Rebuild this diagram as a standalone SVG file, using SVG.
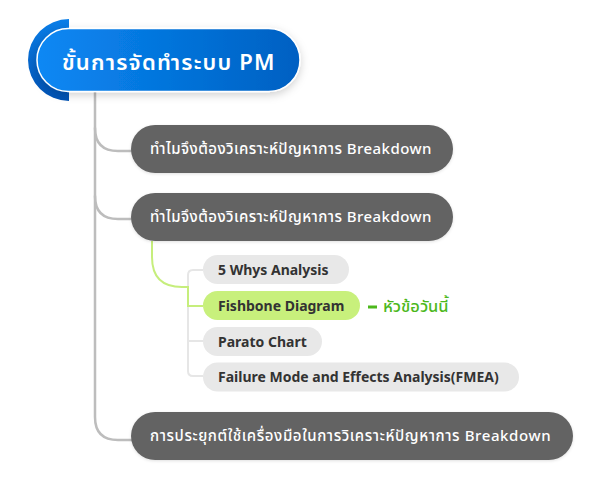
<svg xmlns="http://www.w3.org/2000/svg" width="600" height="480" viewBox="0 0 600 480">
<defs>
<linearGradient id="rootFill" x1="0" y1="0" x2="1" y2="0">
<stop offset="0" stop-color="#0a88f4"/>
<stop offset="1" stop-color="#0060c2"/>
</linearGradient>
<linearGradient id="arcFill" x1="0" y1="0" x2="0" y2="1">
<stop offset="0" stop-color="#0a7ee8"/>
<stop offset="1" stop-color="#0052b4"/>
</linearGradient>
<filter id="shadow" x="-20%" y="-40%" width="140%" height="180%">
<feDropShadow dx="0" dy="3" stdDeviation="4" flood-color="#000" flood-opacity="0.18"/>
</filter>
<filter id="soft" x="-10%" y="-30%" width="120%" height="160%">
<feDropShadow dx="0" dy="1" stdDeviation="1.5" flood-color="#000" flood-opacity="0.12"/>
</filter>
</defs>
<style>
.thai{font-family:"Noto Sans","Noto Sans Thai","DejaVu Sans",sans-serif;}
.dark{fill:#646464;}
.darkText{fill:#ffffff;font-size:15px;font-weight:500;letter-spacing:0.45px;}
.leaf{fill:#e8e8e8;}
.leafText{fill:#333333;font-size:14px;font-weight:700;}
.trunk{fill:none;stroke:#bdbdbd;stroke-width:2.5;stroke-linecap:round;}
.bracket{fill:none;stroke:#e6e6e6;stroke-width:2;}
.green{fill:none;stroke:#c6ee7c;stroke-width:2;}
</style>
<rect width="600" height="480" fill="#ffffff"/>

<g id="connectors">
<path class="trunk" d="M95,92 V417 Q95,440 118,440 H132"/>
<path class="trunk" d="M95,128 Q95,151 118,151 H132"/>
<path class="trunk" d="M95,196 Q95,219 118,219 H132"/>
<path class="bracket" d="M203,270 H193 Q188,270 188,275 V371 Q188,376 193,376 H203"/>
<path class="bracket" d="M188,341 H203"/>
<path class="green" d="M152,241 V257 Q152,287 182,287 H188 V306 H203"/>
</g>

<g id="root">
<path d="M69,19 A41,41 0 0 0 69,101 Z" fill="url(#arcFill)"/>
<rect x="37" y="28.5" width="263" height="63" rx="31.5" fill="url(#rootFill)" stroke="#ffffff" stroke-width="1.5" filter="url(#shadow)"/>
<text class="thai" x="62" y="70" fill="#ffffff" font-size="22" font-weight="600" letter-spacing="1.2">ขั้นการจัดทำระบบ PM</text>
</g>

<g id="node1">
<rect class="dark" x="131" y="125" width="322" height="48" rx="24" filter="url(#soft)"/>
<text class="thai darkText" x="150" y="154">ทำไมจึงต้องวิเคราะห์ปัญหาการ Breakdown</text>
</g>

<g id="node2">
<rect class="dark" x="131" y="193" width="322" height="48" rx="24" filter="url(#soft)"/>
<text class="thai darkText" x="150" y="222">ทำไมจึงต้องวิเคราะห์ปัญหาการ Breakdown</text>
</g>

<g id="leaf1">
<rect class="leaf" x="203" y="255" width="146" height="29" rx="14.5"/>
<text class="thai leafText" x="218" y="274.5">5 Whys Analysis</text>
</g>

<g id="leaf2">
<rect x="203" y="291" width="157" height="29" rx="14.5" fill="#c8f07c"/>
<text class="thai leafText" x="218" y="310.5">Fishbone Diagram</text>
</g>

<g id="note">
<rect x="368" y="305.5" width="9" height="3" fill="#4cb81c"/>
<text class="thai" x="383" y="312" fill="#4cb81c" font-size="16.5" font-weight="500">หัวข้อวันนี้</text>
</g>

<g id="leaf3">
<rect class="leaf" x="203" y="327" width="119" height="29" rx="14.5"/>
<text class="thai leafText" x="218" y="346.5">Parato Chart</text>
</g>

<g id="leaf4">
<rect class="leaf" x="203" y="362.5" width="316" height="29" rx="14.5"/>
<text class="thai leafText" x="218" y="382">Failure Mode and Effects Analysis(FMEA)</text>
</g>

<g id="node3">
<rect class="dark" x="131" y="412" width="442" height="48" rx="24" filter="url(#soft)"/>
<text class="thai darkText" x="150" y="441" style="letter-spacing:0.6px">การประยุกต์ใช้เครื่องมือในการวิเคราะห์ปัญหาการ Breakdown</text>
</g>
</svg>
